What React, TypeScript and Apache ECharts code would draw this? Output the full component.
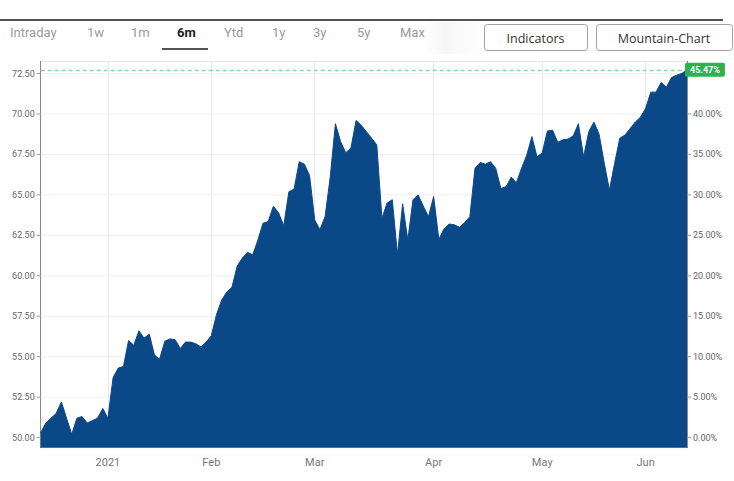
import React, { useEffect, useRef } from "react";
import * as echarts from "echarts";

// ---- data ----
const startDate = "2020-12-10";
const endDate = "2021-06-11";
const holidays = ["2020-12-24", "2020-12-25", "2020-12-31", "2021-01-01", "2021-04-02", "2021-05-24"];

const prices: number[] = [
  50.3, 50.9, 51.2, 51.5, 52.2, 51.2, 50.2, 51.2, 51.3, 50.9,
  51.05, 51.2, 51.8, 51.2, 53.7, 54.3, 54.4, 56.0, 55.7, 56.6,
  56.15, 56.4, 55.1, 54.85, 55.95, 56.1, 56.05, 55.5, 55.9, 55.9,
  55.8, 55.6, 55.9, 56.3, 57.6, 58.5, 59.0, 59.3, 60.6, 61.1,
  61.45, 61.3, 62.2, 63.25, 63.35, 64.3, 63.9, 63.1, 65.2, 65.35,
  67.05, 66.9, 66.2, 63.45, 62.85, 63.65, 66.1, 69.4, 68.3, 67.6,
  67.9, 69.6, 69.3, 68.9, 68.5, 68.1, 63.55, 64.5, 64.7, 61.3,
  64.45, 62.2, 64.7, 65.0, 64.3, 63.65, 64.9, 62.25, 62.9, 63.2,
  63.15, 63.0, 63.3, 63.65, 66.65, 67.0, 66.9, 67.05, 66.65, 65.4,
  65.5, 66.1, 65.75, 66.65, 67.45, 68.6, 67.35, 67.6, 68.95, 69.0,
  68.25, 68.4, 68.45, 68.65, 69.4, 67.35, 68.9, 69.5, 68.75, 66.95,
  65.3, 66.95, 68.5, 68.7, 69.1, 69.5, 69.8, 70.35, 71.35, 71.35,
  71.95, 71.65, 72.25, 72.4, 72.5, 72.735,
];

const lastChangeLabel = "45.47%";
const priceTicks = [50, 52.5, 55, 57.5, 60, 62.5, 65, 67.5, 70, 72.5];
const monthNames = ["Jan", "Feb", "Mar", "Apr", "May", "Jun", "Jul", "Aug", "Sep", "Oct", "Nov", "Dec"];
const tabs = ["Intraday", "1w", "1m", "6m", "Ytd", "1y", "3y", "5y", "Max"];
const activeTab = "6m";
const buttons = ["Indicators", "Mountain-Chart"];

function pad(n: number) {
  return n < 10 ? "0" + n : "" + n;
}
function tradingDays(): string[] {
  const out: string[] = [];
  const d = new Date(startDate + "T12:00:00Z");
  const end = new Date(endDate + "T12:00:00Z");
  while (d <= end) {
    const wd = d.getUTCDay();
    const s = d.getUTCFullYear() + "-" + pad(d.getUTCMonth() + 1) + "-" + pad(d.getUTCDate());
    if (wd !== 0 && wd !== 6 && holidays.indexOf(s) < 0) out.push(s);
    d.setUTCDate(d.getUTCDate() + 1);
  }
  return out;
}
const categories = tradingDays();

const isMonthStart = (i: number) =>
  i > 0 && !!categories[i] && !!categories[i - 1] && categories[i].slice(5, 7) !== categories[i - 1].slice(5, 7);

const isMult = (v: number, step: number) => Math.abs(v / step - Math.round(v / step)) < 1e-6;

export default function App() {
  const ref = useRef<HTMLDivElement>(null);
  useEffect(() => {
    if (!ref.current) return;
    const chart = echarts.init(ref.current, null, { renderer: "svg" });
    const lastPrice = prices[prices.length - 1];
    const tabX = [10, 87, 131, 177, 224, 272, 313, 357, 400];
    const btnBoxes = [
      { x: 484, w: 103 },
      { x: 596, w: 136 },
    ];
    const graphics: any[] = [
      { type: "line", shape: { x1: 0, y1: 20, x2: 723, y2: 20 }, style: { stroke: "#1a1a1a", lineWidth: 1.5 } },
      {
        type: "rect",
        shape: { x: 424, y: 22, width: 60, height: 32 },
        style: {
          fill: new echarts.graphic.LinearGradient(0, 0, 1, 0, [
            { offset: 0, color: "rgba(0,0,0,0.0)" },
            { offset: 0.35, color: "rgba(0,0,0,0.035)" },
            { offset: 1, color: "rgba(0,0,0,0.0)" },
          ]),
        },
        silent: true,
      },
      { type: "line", shape: { x1: 162, y1: 49, x2: 208, y2: 49 }, style: { stroke: "#1a1a1a", lineWidth: 1.5 } },
    ];
    tabs.forEach((t, i) => {
      graphics.push({
        type: "text",
        x: tabX[i],
        y: 32,
        style: {
          text: t,
          fill: t === activeTab ? "#222" : "#9a9a9a",
          font: (t === activeTab ? "bold " : "") + "13px Roboto, sans-serif",
          verticalAlign: "middle",
        },
      });
    });
    buttons.forEach((b, i) => {
      graphics.push({
        type: "rect",
        shape: { x: btnBoxes[i].x + 0.5, y: 24.5, width: btnBoxes[i].w, height: 26, r: 3 },
        style: { fill: "#fff", stroke: "#a0a0a0", lineWidth: 1 },
      });
      graphics.push({
        type: "text",
        x: btnBoxes[i].x + btnBoxes[i].w / 2,
        y: 38,
        style: {
          text: b,
          fill: "#333",
          font: "12.5px 'Open Sans', sans-serif",
          align: "center",
          verticalAlign: "middle",
        },
      });
    });

    const option: any = {
      animation: false,
      graphic: graphics,
      grid: {
        left: 40.7,
        right: 47,
        top: 61.4,
        bottom: 33.3,
        show: true,
        borderColor: "#e6e6e6",
        borderWidth: 1,
      },
      xAxis: {
        type: "category",
        data: categories,
        boundaryGap: false,
        axisLine: { lineStyle: { color: "#8a8a8a", width: 1 } },
        axisTick: { show: true, interval: (i: number) => isMonthStart(i), length: 4, lineStyle: { color: "#999" } },
        axisLabel: {
          interval: (i: number) => isMonthStart(i),
          formatter: (v: string) => {
            const m = parseInt(v.slice(5, 7), 10);
            return m === 1 ? v.slice(0, 4) : monthNames[m - 1];
          },
          color: "#777",
          fontSize: 11,
          fontFamily: "Roboto, sans-serif",
          margin: 9,
        },
        splitLine: { show: true, interval: (i: number) => isMonthStart(i), lineStyle: { color: "#e8e8e8" } },
      },
      yAxis: [
        {
          type: "value",
          position: "left",
          min: 49.375,
          max: 73.25,
          interval: 0.625,
          axisLine: { show: true, lineStyle: { color: "#8a8a8a" } },
          axisTick: { show: false },
          splitLine: { show: false },
          axisLabel: {
            formatter: (v: number) => (isMult(v, 2.5) && v >= 50 && v <= 72.5 ? v.toFixed(2) : ""),
            color: "#666",
            fontSize: 9,
            fontFamily: "Roboto, sans-serif",
            margin: 6,
          },
        },
        {
          type: "value",
          position: "right",
          min: -1.25,
          max: 46.5,
          interval: 1.25,
          axisLine: { show: true, lineStyle: { color: "#8a8a8a" } },
          axisTick: { show: false },
          splitLine: { show: false },
          axisLabel: {
            formatter: (v: number) => (isMult(v, 5) && v >= 0 && v <= 40 ? v.toFixed(2) + "%" : ""),
            color: "#666",
            fontSize: 9,
            fontFamily: "Roboto, sans-serif",
            margin: 6,
          },
        },
      ],
      series: [
        {
          type: "custom",
          z: 1,
          silent: true,
          clip: false,
          xAxisIndex: 0,
          yAxisIndex: 0,
          data: priceTicks.map((v) => [0, v]),
          renderItem: (params: any, api: any) => {
            const v = api.value(1);
            const p1 = api.coord([0, v]);
            const p2 = api.coord([categories.length - 1, v]);
            return {
              type: "group",
              children: [
                {
                  type: "line",
                  shape: { x1: p1[0], y1: p1[1], x2: p2[0], y2: p2[1] },
                  style: { stroke: "#eeeeee", lineWidth: 1 },
                },
                {
                  type: "line",
                  shape: { x1: p1[0] - 4, y1: p1[1], x2: p1[0], y2: p1[1] },
                  style: { stroke: "#999", lineWidth: 1 },
                },
                {
                  type: "line",
                  shape: { x1: p2[0], y1: p2[1], x2: p2[0] + 4, y2: p2[1] },
                  style: { stroke: "#999", lineWidth: 1 },
                },
              ],
            };
          },
        },
        {
          type: "line",
          z: 2,
          data: prices,
          symbol: "none",
          smooth: false,
          lineStyle: { color: "#0b4887", width: 1 },
          areaStyle: { color: "#0b4887", opacity: 1, origin: "start" },
          markLine: {
            silent: true,
            symbol: "none",
            lineStyle: { color: "#8fd2b6", type: [4, 3], width: 1.4 },
            label: {
              show: true,
              position: "end",
              distance: -2,
              formatter: () => lastChangeLabel,
              backgroundColor: "#2bb34c",
              color: "#fff",
              fontSize: 9,
              fontWeight: "bold",
              fontFamily: "Roboto, sans-serif",
              padding: [3, 5, 2, 5],
              borderRadius: 2,
            },
            data: [{ yAxis: lastPrice }],
          },
        },
      ],
    };
    chart.setOption(option);
    return () => chart.dispose();
  }, []);
  return (
    <div
      ref={ref}
      style={{ position: "fixed", left: 0, top: 0, width: 734, height: 481, background: "#fff" }}
    />
  );
}
